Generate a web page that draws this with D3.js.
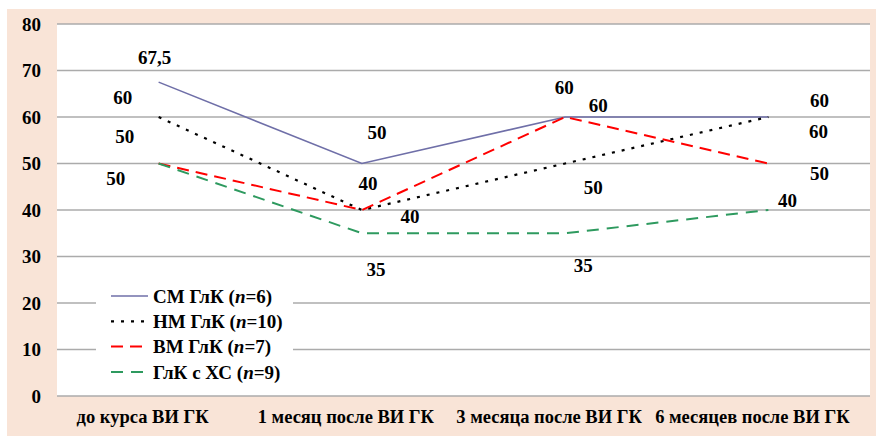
<!DOCTYPE html>
<html>
<head>
<meta charset="utf-8">
<script src="https://cdn.jsdelivr.net/npm/d3@7"></script>
<style>
  html, body { margin: 0; padding: 0; background: #ffffff; }
  svg { display: block; }
  svg text { font-family: "Liberation Serif", "Times New Roman", Tinos, "DejaVu Serif", serif; font-weight: 700; fill: #000; }
</style>
</head>
<body>
<svg id="chart" width="876" height="436"></svg>
<script>
// Time points
const categories = ["до курса ВИ ГК", "1 месяц после ВИ ГК", "3 месяца после ВИ ГК", "6 месяцев после ВИ ГК"];

// Series values
const smValues = [67.5, 50, 60, 60];   // СМ ГлК (n=6)
const nmValues = [60, 40, 50, 60];     // НМ ГлК (n=10)
const vmValues = [50, 40, 60, 50];     // ВМ ГлК (n=7)
const xsValues = [50, 35, 35, 40];     // ГлК с ХС (n=9)

const seriesNames = ["СМ ГлК", "НМ ГлК", "ВМ ГлК", "ГлК с ХС"];
const seriesN = [6, 10, 7, 9];

const yTicks = [0, 10, 20, 30, 40, 50, 60, 70, 80];

// Line styles per series
const styles = [
  { color: "#6f6fa8", dash: null,   width: 1.6 },
  { color: "#000000", dash: "3,7",  width: 2.2 },
  { color: "#ff0000", dash: "12,7", width: 2   },
  { color: "#2e9a5f", dash: "12,8", width: 2   }
];

// Hand-placed value label nudges (px, relative to each point)
const labelNudge = [
  [[-4, -25], [15, -31], [33, -12], [51, -17]],
  [[-36, -20], [6, -27], [28, 24], [50, 14]],
  [[-34, -27], [48, 6], [-1, -30], [51, 10]],
  [[-43, 15], [14, 36], [18, 32], [19, -10]]
];

const series = [smValues, nmValues, vmValues, xsValues];

const svg = d3.select("#chart");
const W = 876, H = 436;

// Chart background
svg.append("rect").attr("x", 7).attr("y", 9).attr("width", W - 7).attr("height", H - 9).attr("fill", "#f9e4d7");

const plot = { left: 57, right: 870, top: 24, bottom: 396 };
svg.append("rect")
  .attr("x", plot.left).attr("y", plot.top)
  .attr("width", plot.right - plot.left).attr("height", plot.bottom - plot.top)
  .attr("fill", "#ffffff");

const x = d3.scaleBand().domain(categories).range([plot.left, plot.right]).padding(0);
const y = d3.scaleLinear().domain([0, 80]).range([plot.bottom, plot.top]);
const cx = c => x(c) + x.bandwidth() / 2;

// Gridlines
svg.append("g").selectAll("line").data(yTicks).join("line")
  .attr("x1", plot.left).attr("x2", plot.right)
  .attr("y1", d => y(d)).attr("y2", d => y(d))
  .attr("stroke", "#ababab").attr("stroke-width", 1.4);

// Y axis labels
const yAxis = d3.axisLeft(y).tickValues(yTicks).tickSize(0).tickPadding(0).tickFormat(d3.format("d"));
const yg = svg.append("g").attr("transform", `translate(${plot.left - 16},0)`).call(yAxis);
yg.attr("font-family", null).attr("font-size", null);
yg.select(".domain").remove();
yg.selectAll("text").attr("font-size", 19).attr("fill", "#000");

// X axis labels
const xAxis = d3.axisBottom(x).tickSize(0).tickPadding(0);
const xg = svg.append("g").attr("transform", `translate(-16,${plot.bottom + 14})`).call(xAxis);
xg.attr("font-family", null).attr("font-size", null);
xg.select(".domain").remove();
xg.selectAll("text").attr("font-size", 18.5).attr("fill", "#000");

// Lines
const line = d3.line().x((d, i) => cx(categories[i])).y(d => y(d));
series.forEach((vals, s) => {
  svg.append("path")
    .datum(vals)
    .attr("d", line)
    .attr("fill", "none")
    .attr("stroke", styles[s].color)
    .attr("stroke-width", styles[s].width)
    .attr("stroke-dasharray", styles[s].dash)
    .attr("stroke-linecap", "butt");
});

// Value labels
const fmt = v => String(v).replace(".", ",");
series.forEach((vals, s) => {
  svg.append("g").selectAll("text").data(vals).join("text")
    .attr("x", (d, i) => cx(categories[i]) + labelNudge[s][i][0])
    .attr("y", (d, i) => y(d) + labelNudge[s][i][1])
    .attr("dy", "0.35em")
    .attr("text-anchor", "middle")
    .attr("font-size", 19)
    .text(d => fmt(d));
});

// Legend
const legend = svg.append("g");
legend.append("rect").attr("x", 96).attr("y", 282).attr("width", 197).attr("height", 104).attr("fill", "#ffffff");
seriesNames.forEach((name, s) => {
  const ly = 296 + s * 25.3;
  legend.append("line")
    .attr("x1", 111).attr("x2", 148).attr("y1", ly).attr("y2", ly)
    .attr("stroke", styles[s].color)
    .attr("stroke-width", styles[s].width)
    .attr("stroke-dasharray", styles[s].dash);
  const t = legend.append("text").attr("x", 153).attr("y", ly).attr("dy", "0.35em").attr("font-size", 19);
  t.append("tspan").text(name + " (");
  t.append("tspan").attr("font-style", "italic").text("n");
  t.append("tspan").text("=" + seriesN[s] + ")");
});
</script>
</body>
</html>
